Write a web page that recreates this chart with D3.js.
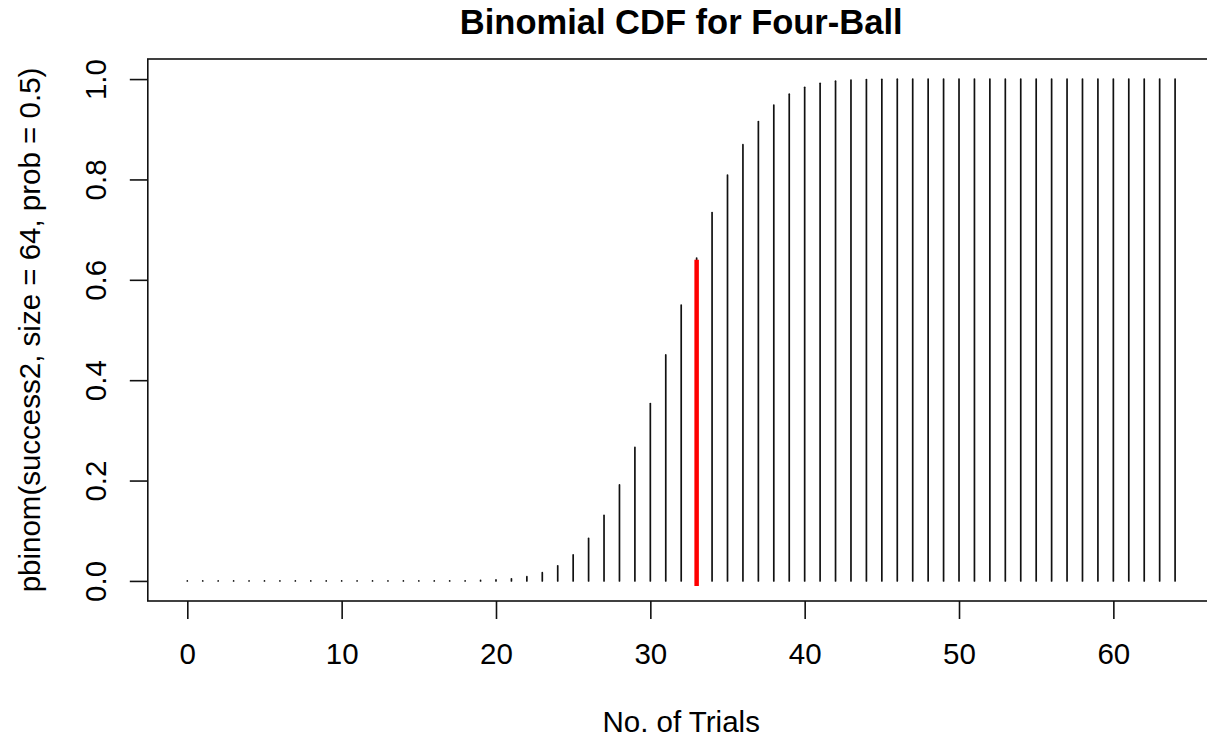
<!DOCTYPE html>
<html>
<head>
<meta charset="utf-8">
<script src="https://cdn.jsdelivr.net/npm/d3@7"></script>
<style>
  html, body { margin: 0; padding: 0; background: #fff; }
  svg { display: block; font-family: "Liberation Sans", Arial, Helvetica, sans-serif; }
</style>
</head>
<body>
<svg id="chart" width="1207" height="740"></svg>
<script>
// data
const trials = [
  0, 1, 2, 3, 4, 5, 6, 7, 8, 9,
  10, 11, 12, 13, 14, 15, 16, 17, 18, 19,
  20, 21, 22, 23, 24, 25, 26, 27, 28, 29,
  30, 31, 32, 33, 34, 35, 36, 37, 38, 39,
  40, 41, 42, 43, 44, 45, 46, 47, 48, 49,
  50, 51, 52, 53, 54, 55, 56, 57, 58, 59,
  60, 61, 62, 63, 64
]
const cdf = [
  0, 0, 0, 0, 0, 0, 0, 0, 0, 0,
  0, 0, 0, 0.00001, 0.00002, 0.00005, 0.0001, 0.0002, 0.0004, 0.0009,
  0.0019, 0.0041, 0.0084, 0.0165, 0.0301, 0.0519, 0.0846, 0.1307, 0.1913, 0.2660,
  0.3535, 0.4503, 0.5497, 0.6434, 0.7340, 0.8087, 0.8693, 0.9154, 0.9481, 0.9699,
  0.9835, 0.9916, 0.9959, 0.9981, 0.9991, 0.9996, 0.9998, 0.9999, 1, 1,
  1, 1, 1, 1, 1, 1, 1, 1, 1, 1,
  1, 1, 1, 1, 1
]
// highlighted trial (red segment)
const markX = 33
const markY = [-0.01, 0.64]

const xTicks = [0, 10, 20, 30, 40, 50, 60]
const yTicks = [0, 0.2, 0.4, 0.6, 0.8, 1.0]

const title = 'Binomial CDF for Four-Ball'
const xLabel = 'No. of Trials'
const yLabel = 'pbinom(success2, size = 64, prob = 0.5)'

// plot region
const L = 147.8, R = 1214.6, T = 59, B = 601
const AXIS_FONT = '29.5px'

const x = d3.scaleLinear().domain([-2.56, 66.56]).range([L, R])
const y = d3.scaleLinear().domain([-0.04, 1.04]).range([B, T])

const svg = d3.select('#chart')

// stems (type = "h")
svg.append('g')
  .selectAll('line')
  .data(trials.map((t, i) => ({ t: t, p: cdf[i] })))
  .enter()
  .append('line')
  .attr('x1', d => x(d.t))
  .attr('x2', d => x(d.t))
  .attr('y1', y(0))
  .attr('y2', d => y(d.p))
  .attr('stroke', '#111')
  .attr('stroke-width', 1.7)
  .attr('stroke-linecap', 'round')

// red marker
svg.append('line')
  .attr('x1', x(markX))
  .attr('x2', x(markX))
  .attr('y1', y(markY[0]))
  .attr('y2', y(markY[1]))
  .attr('stroke', '#ff0000')
  .attr('stroke-width', 4.5)

// box
svg.append('rect')
  .attr('x', L)
  .attr('y', T)
  .attr('width', R - L)
  .attr('height', B - T)
  .attr('fill', 'none')
  .attr('stroke', '#111')
  .attr('stroke-width', 1.6)

// x axis
const xAxis = svg.append('g')
  .attr('transform', 'translate(0,' + B + ')')
  .call(d3.axisBottom(x).tickValues(xTicks).tickFormat(d3.format('d'))
    .tickSize(18).tickSizeOuter(0).tickPadding(24))
xAxis.select('.domain').remove()
xAxis.selectAll('line').attr('stroke', '#111').attr('stroke-width', 1.6)
xAxis.selectAll('text')
  .attr('fill', '#000')
  .style('font-size', AXIS_FONT)
  .style('font-family', '"Liberation Sans", Arial, sans-serif')

// y axis, labels parallel to axis like R
const yAxis = svg.append('g')
  .attr('transform', 'translate(' + L + ',0)')
  .call(d3.axisLeft(y).tickValues(yTicks).tickFormat(d3.format('.1f'))
    .tickSize(18).tickSizeOuter(0))
yAxis.select('.domain').remove()
yAxis.selectAll('line').attr('stroke', '#111').attr('stroke-width', 1.6)
yAxis.selectAll('text')
  .attr('x', null)
  .attr('dy', null)
  .attr('transform', 'translate(-42,0) rotate(-90)')
  .attr('text-anchor', 'middle')
  .attr('fill', '#000')
  .style('font-size', AXIS_FONT)
  .style('font-family', '"Liberation Sans", Arial, sans-serif')

// titles
svg.append('text')
  .attr('x', (L + R) / 2)
  .attr('y', 34)
  .attr('text-anchor', 'middle')
  .style('font-size', '34.5px')
  .style('font-weight', 'bold')
  .text(title)

svg.append('text')
  .attr('x', (L + R) / 2)
  .attr('y', 732)
  .attr('text-anchor', 'middle')
  .style('font-size', AXIS_FONT)
  .text(xLabel)

svg.append('text')
  .attr('transform', 'translate(40,' + (T + B) / 2 + ') rotate(-90)')
  .attr('text-anchor', 'middle')
  .style('font-size', AXIS_FONT)
  .text(yLabel)
</script>
</body>
</html>
